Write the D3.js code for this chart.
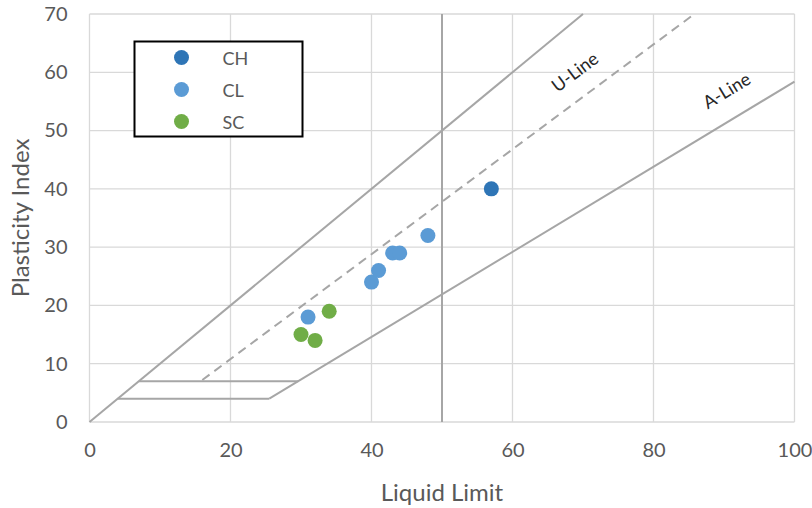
<!DOCTYPE html>
<html>
<head>
<meta charset="utf-8">
<script src="https://cdn.jsdelivr.net/npm/d3@7"></script>
<style>
  body { margin: 0; background: #fff; }
  svg { font-family: Lato, "Open Sans", sans-serif; }
</style>
</head>
<body>
<svg width="812" height="508"></svg>
<script>
// series data (liquid limit, plasticity index)
var seriesNames = ["CH", "CL", "SC"];
var seriesColors = ["#2e75b6", "#5b9bd5", "#70ad47"];
var chLL = [57], chPI = [40];
var clLL = [31, 40, 41, 43, 44, 48], clPI = [18, 24, 26, 29, 29, 32];
var scLL = [30, 32, 34], scPI = [15, 14, 19];

// plasticity chart reference lines
var upperLine = [[0, 0], [70, 70]];
var uLine = [[16, 7.2], [85.8, 70]];
var aLine = [[25.5, 4], [100, 58.4]];
var band4 = [[4, 4], [25.5, 4]];
var band7 = [[7, 7], [29.6, 7]];
var llFifty = [[50, 0], [50, 70]];

var xTicks = [0, 20, 40, 60, 80, 100];
var yTicks = [0, 10, 20, 30, 40, 50, 60, 70];

var svg = d3.select("svg");
var margin = {top: 14, right: 17.5, bottom: 86, left: 89.5};
var w = 812 - margin.left - margin.right,
    h = 508 - margin.top - margin.bottom;

var x = d3.scaleLinear().domain([0, 100]).range([0, w]);
var y = d3.scaleLinear().domain([0, 70]).range([h, 0]);

var g = svg.append("g").attr("transform", "translate(" + margin.left + "," + margin.top + ")");

// gridlines
g.selectAll(".gy").data(yTicks).enter().append("line")
  .attr("x1", 0).attr("x2", w)
  .attr("y1", function(d) { return y(d); }).attr("y2", function(d) { return y(d); })
  .attr("stroke", "#d9d9d9").attr("stroke-width", 1.3);
g.selectAll(".gx").data(xTicks).enter().append("line")
  .attr("y1", 0).attr("y2", h)
  .attr("x1", function(d) { return x(d); }).attr("x2", function(d) { return x(d); })
  .attr("stroke", "#d9d9d9").attr("stroke-width", 1.3);

// axes (labels only)
var xAxis = g.append("g").attr("transform", "translate(0," + h + ")")
  .call(d3.axisBottom(x).tickValues(xTicks).tickSize(0).tickPadding(21));
var yAxis = g.append("g")
  .call(d3.axisLeft(y).tickValues(yTicks).tickSize(0).tickPadding(22));
[xAxis, yAxis].forEach(function(a) {
  a.select(".domain").remove();
  a.selectAll("text").attr("fill", "#595959").style("font-size", "20px")
    .style("font-family", "Lato, 'Open Sans', sans-serif");
});

var line = d3.line().x(function(d) { return x(d[0]); }).y(function(d) { return y(d[1]); });

[upperLine, aLine, band4, band7, llFifty].forEach(function(pts) {
  g.append("path").attr("d", line(pts)).attr("fill", "none")
    .attr("stroke", "#a6a6a6").attr("stroke-width", 2);
});
g.append("path").attr("d", line(uLine)).attr("fill", "none")
  .attr("stroke", "#a6a6a6").attr("stroke-width", 2).attr("stroke-dasharray", "9,6");

// line labels
function angle(pts) {
  return Math.atan2(y(pts[1][1]) - y(pts[0][1]), x(pts[1][0]) - x(pts[0][0])) * 180 / Math.PI;
}
g.append("text").attr("transform", "translate(" + x(69) + "," + y(59.8) + ") rotate(" + angle(uLine) + ")")
  .attr("text-anchor", "middle").attr("dominant-baseline", "middle")
  .style("font-size", "18px").attr("fill", "#262626").text("U-Line");
g.append("text").attr("transform", "translate(" + x(90.5) + "," + y(56.6) + ") rotate(" + angle(aLine) + ")")
  .attr("text-anchor", "middle").attr("dominant-baseline", "middle")
  .style("font-size", "18px").attr("fill", "#262626").text("A-Line");

// points
var series = [[chLL, chPI], [clLL, clPI], [scLL, scPI]];
series.forEach(function(s, i) {
  g.selectAll(".p" + i).data(s[0]).enter().append("circle")
    .attr("cx", function(d) { return x(d); })
    .attr("cy", function(d, j) { return y(s[1][j]); })
    .attr("r", 7.5).attr("fill", seriesColors[i]);
});

// axis titles
svg.append("text").attr("x", margin.left + x(50)).attr("y", 501)
  .attr("text-anchor", "middle").attr("fill", "#595959").style("font-size", "24px").text("Liquid Limit");
svg.append("text").attr("transform", "translate(29," + (margin.top + h / 2) + ") rotate(-90)")
  .attr("text-anchor", "middle").attr("fill", "#595959").style("font-size", "24px").text("Plasticity Index");

// legend
var lg = svg.append("g").attr("transform", "translate(134.5,41.5)");
lg.append("rect").attr("width", 168).attr("height", 95)
  .attr("fill", "#fff").attr("stroke", "#000").attr("stroke-width", 2);
seriesNames.forEach(function(n, i) {
  lg.append("circle").attr("cx", 47).attr("cy", 16 + i * 32).attr("r", 7.5).attr("fill", seriesColors[i]);
  lg.append("text").attr("x", 88).attr("y", 16 + i * 32).attr("dominant-baseline", "central")
    .attr("fill", "#595959").style("font-size", "18px").text(n);
});
</script>
</body>
</html>
